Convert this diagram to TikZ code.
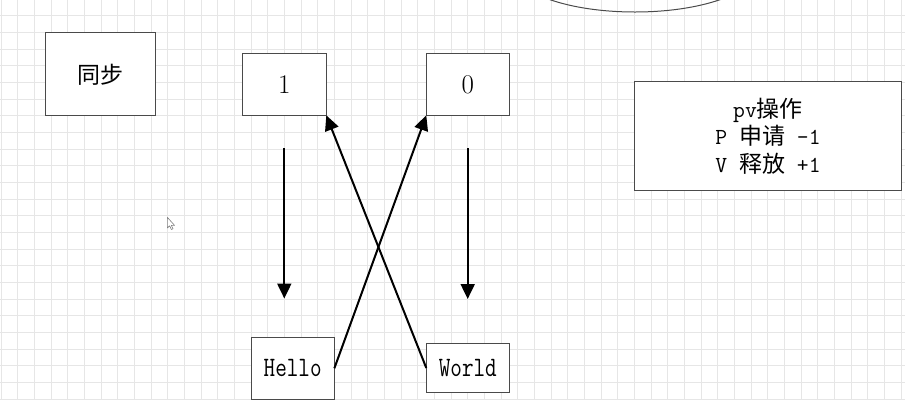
\documentclass[tikz,border=0pt]{standalone}
\usepackage{fontspec}
\newfontfamily\cjk{Noto Sans CJK SC}
\usetikzlibrary{arrows.meta,shapes.geometric}
\definecolor{gridc}{HTML}{E6E6E6}
\definecolor{boxc}{HTML}{4A4A4A}
\tikzset{
  box/.style={draw=boxc, line width=1pt, fill=white, inner sep=0pt, outer sep=0pt, align=center},
  flow/.style={line width=2pt, draw=black, -{Triangle[length=15pt,width=14pt]}},
}
\begin{document}
\begin{tikzpicture}[x=1pt,y=-1pt]
\useasboundingbox (0,0) rectangle (905,400);
\clip (0,0) rectangle (905,400);
\fill[white] (0,0) rectangle (905,400);
% grid
\foreach \i in {0,...,54} {
  \draw[gridc, line width=0.8pt] ({0.9+16.667*\i},0) -- ({0.9+16.667*\i},400);
}
\foreach \j in {1,...,24} {
  \draw[gridc, line width=0.8pt] (0,{-0.97+16.667*\j}) -- (905,{-0.97+16.667*\j});
}
% ellipse at top
\node[ellipse, draw=boxc, line width=1pt, minimum width=240pt, minimum height=84pt, inner sep=0pt] (ell) at (635,-30) {};
% boxes
\node[box, minimum width=110pt, minimum height=82.7pt, font=\cjk\fontsize{23}{27}\selectfont] (sync) at (100.7,74.3) {同步};
\node[box, minimum width=84pt, minimum height=62pt, font=\fontsize{27}{32}\selectfont] (one) at (284.3,84.3) {1};
\node[box, minimum width=83pt, minimum height=62pt, font=\fontsize{27}{32}\selectfont] (zero) at (467.8,84.3) {0};
\node[box, minimum width=83.3pt, minimum height=62pt, font=\ttfamily\fontsize{22.5}{26}\selectfont] (hello) at (292.7,368.3) {\scalebox{1}[1.25]{Hello}};
\node[box, minimum width=83pt, minimum height=49.4pt, font=\ttfamily\fontsize{22.5}{26}\selectfont] (world) at (467.8,368) {\scalebox{1}[1.25]{World}};
\node[box, minimum width=267.4pt, minimum height=108.3pt, font=\ttfamily\fontsize{23}{27.5}\selectfont] (pv) at (768,136)
  {pv{\cjk 操作}\\ P {\cjk 申请} -1\\ V {\cjk 释放} +1};
% connectors
\coordinate (d1s) at (284.3,148.3);
\coordinate (d1e) at (284.3,298.5);
\coordinate (d2s) at (467.7,148.3);
\coordinate (d2e) at (467.7,299);
\draw[flow] (d1s) -- (d1e);
\draw[flow] (d2s) -- (d2e);
\draw[flow] (hello.east) -- (zero.south west);
\draw[flow] (world.west) -- (one.south east);
% mouse cursor
\draw[gray, line width=0.6pt, fill=white, line join=round] (167.3,217.3) -- (167.3,228) -- (169.6,225.8) -- (171.4,229.5) -- (173,228.8) -- (171.3,225.4) -- (174.6,225.4) -- cycle;
\end{tikzpicture}
\end{document}
